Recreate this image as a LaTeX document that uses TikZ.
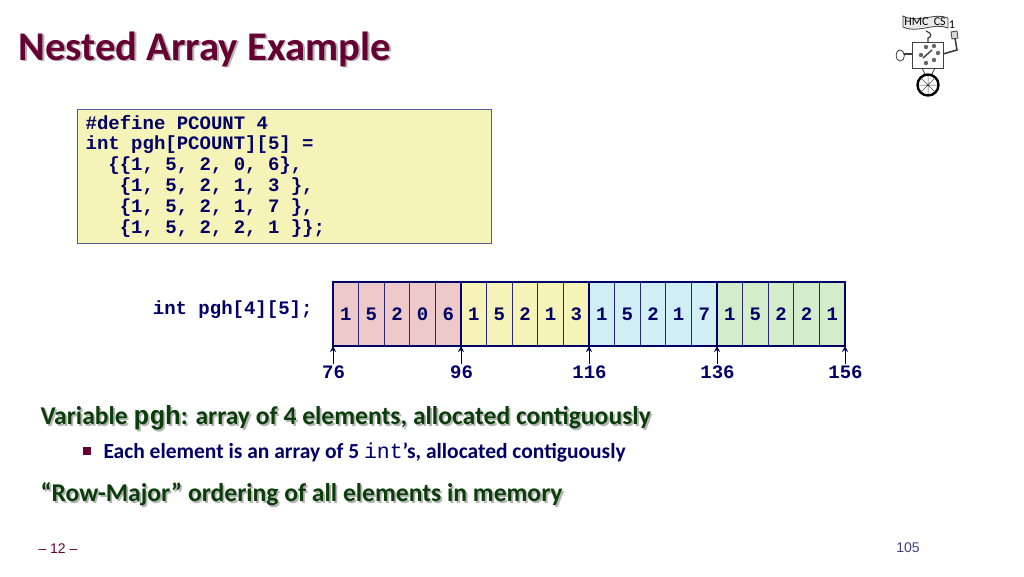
\documentclass[tikz,border=0pt]{standalone}
\usepackage{fontspec}
\usetikzlibrary{arrows.meta}
\setmainfont{Carlito}
\setsansfont{Liberation Sans}
\setmonofont{Liberation Mono}
\definecolor{titlered}{HTML}{660033}
\definecolor{textnavy}{HTML}{000066}
\definecolor{textgreen}{HTML}{0B3D0B}
\definecolor{softgray}{HTML}{B4B4B4}
\definecolor{boxline}{HTML}{5A5A9A}
\definecolor{rowpink}{HTML}{EDC9C9}
\definecolor{rowyellow}{HTML}{F6F3B9}
\definecolor{rowblue}{HTML}{CFEFF5}
\definecolor{rowgreen}{HTML}{D3ECC9}
\newcommand{\shadowed}[2]{\makebox[0pt][l]{\hspace{1.8pt}\raisebox{-1.8pt}{\textcolor{softgray}{#2}}}\textcolor{#1}{#2}}
\tikzset{
  every path/.style={line width=1pt},
  cell/.style={draw=textnavy!85,line width=.9pt,minimum width=25.6pt,minimum height=64pt,inner sep=0pt,outer sep=0pt,
    text=textnavy,font=\fontsize{19}{20}\ttfamily\bfseries},
  rowa/.style={cell,fill=rowpink},
  rowb/.style={cell,fill=rowyellow},
  rowc/.style={cell,fill=rowblue},
  rowd/.style={cell,fill=rowgreen},
  addr/.style={text=textnavy,inner sep=1pt,font=\fontsize{19}{20}\ttfamily\bfseries},
  head/.style={anchor=west,inner sep=0pt,font=\fontsize{25.6}{28}\bfseries},
  logo/.style={draw=black!75,line width=.8pt},
}

\begin{document}
\begin{tikzpicture}[x=1pt,y=-1pt]
    \useasboundingbox[fill=white] (0,0) rectangle (1024,576);
    \node[anchor=west,inner sep=0pt,font=\fontsize{40.7}{44}\bfseries] (title) at (18,50) {\shadowed{titlered}{Nested Array Example}};
    \node[anchor=north west,draw=boxline,fill=rowyellow,line width=1.2pt,inner sep=0pt,minimum height=134pt,
      text width=398pt,align=left,inner xsep=8pt,text=textnavy,font=\fontsize{19}{20.8}\ttfamily\bfseries] (code) at (77,109)
      {\spaceskip=0pt\relax\#define PCOUNT 4\\int pgh[PCOUNT][5] =\\\ \ \{\{1, 5, 2, 0, 6\},\\\ \ \ \{1, 5, 2, 1, 3 \},\\\ \ \ \{1, 5, 2, 1, 7 \},\\\ \ \ \{1, 5, 2, 2, 1 \}\};\rule[-5pt]{0pt}{5pt}};
    \node[anchor=east,inner sep=0pt,text=textnavy,font=\fontsize{19}{20}\ttfamily\bfseries] (decl) at (313,310) {int pgh[4][5];};

    \node[rowa] (c1) at (345.8,314) {1};
    \node[rowa] (c2) at (371.4,314) {5};
    \node[rowa] (c3) at (397,314) {2};
    \node[rowa] (c4) at (422.6,314) {0};
    \node[rowa] (c5) at (448.2,314) {6};
    \node[rowb] (c6) at (473.8,314) {1};
    \node[rowb] (c7) at (499.4,314) {5};
    \node[rowb] (c8) at (525,314) {2};
    \node[rowb] (c9) at (550.6,314) {1};
    \node[rowb] (c10) at (576.2,314) {3};
    \node[rowc] (c11) at (601.8,314) {1};
    \node[rowc] (c12) at (627.4,314) {5};
    \node[rowc] (c13) at (653,314) {2};
    \node[rowc] (c14) at (678.6,314) {1};
    \node[rowc] (c15) at (704.2,314) {7};
    \node[rowd] (c16) at (729.8,314) {1};
    \node[rowd] (c17) at (755.4,314) {5};
    \node[rowd] (c18) at (781,314) {2};
    \node[rowd] (c19) at (806.6,314) {2};
    \node[rowd] (c20) at (832.2,314) {1};
    % heavier outline round each row
    \draw[textnavy,line width=2.4pt] (c1.north west) rectangle (c20.south east);
    \draw[textnavy,line width=2.4pt] (c6.north west) -- (c6.south west);
    \draw[textnavy,line width=2.4pt] (c11.north west) -- (c11.south west);
    \draw[textnavy,line width=2.4pt] (c16.north west) -- (c16.south west);

    \node[addr] (a76) at (333.5,372) {76};
    \node[addr] (a96) at (461.5,372) {96};
    \node[addr] (a116) at (589.5,372) {116};
    \node[addr] (a136) at (717.5,372) {136};
    \node[addr] (a156) at (845.5,372) {156};
    \path[color=textnavy, line width=1.4pt, -{Stealth[length=6pt,width=6pt]}]
    (c1.south west |- a76.north) edge (c1.south west);
    \path[color=textnavy, line width=1.4pt, -{Stealth[length=6pt,width=6pt]}]
    (c6.south west |- a96.north) edge (c6.south west);
    \path[color=textnavy, line width=1.4pt, -{Stealth[length=6pt,width=6pt]}]
    (c11.south west |- a116.north) edge (c11.south west);
    \path[color=textnavy, line width=1.4pt, -{Stealth[length=6pt,width=6pt]}]
    (c16.south west |- a136.north) edge (c16.south west);
    \path[color=textnavy, line width=1.4pt, -{Stealth[length=6pt,width=6pt]}]
    (c20.south east |- a156.north) edge (c20.south east);

    \node[head] (var) at (40,419) {\shadowed{textgreen}{Variable {\ttfamily\fontsize{26.2}{28}\selectfont pgh}: array of 4 elements, allocated contiguously}};
    \node[fill=titlered,inner sep=0pt,minimum size=8pt] (dot) at (87,451) {};
    \node[anchor=west,inner sep=0pt,text=textnavy,font=\fontsize{21.5}{24}\bfseries] (each) at (103,452)
      {Each element is an array of 5 {\ttfamily\mdseries\fontsize{21.5}{24}\selectfont int}’s, allocated contiguously};
    \node[head] (row) at (40,495) {\shadowed{textgreen}{“Row-Major” ordering of all elements in memory}};
    \node[inner sep=0pt,text=titlered,font=\fontsize{14}{16}\sffamily] (slide) at (58,549) {– 12 –};
    \node[inner sep=0pt,text=textnavy!75,font=\fontsize{14}{16}\sffamily] (page) at (908,548) {105};

    % logo, drawn directly
    \draw[logo,fill=black!8] (903,16) .. controls (918,24) and (934,12) .. (948,18) -- (948,28) .. controls (934,22) and (918,34) .. (903,27) -- cycle;
    \node[inner sep=0pt,font=\fontsize{12}{13}\selectfont\rmfamily] (banner) at (925,22) {HMC\ \ CS};
    \node[inner sep=0pt,font=\fontsize{12}{13}\selectfont\rmfamily] (one) at (952,25) {1};
    \draw[logo,line width=1.2pt] (926,31) .. controls (932,33) and (932,37) .. (928,38) -- (928,42);
    \draw[logo,fill=white] (912,42) rectangle (943,68);
    \draw[logo,line width=1.4pt] (923,58) -- (932,50);
    \fill[black!60] (926,47) circle (2.2pt) (934,46) circle (2.2pt) (921,55) circle (2.2pt) (938,53) circle (2.2pt) (926,63) circle (2.2pt) (934,60) circle (2.2pt);
    \draw[logo,line width=1.6pt] (943,54) -- (957,50) -- (955,38);
    \draw[logo,fill=black!15] (951,32) -- (957,31) -- (958,38) -- (952,39) -- cycle;
    \draw[logo,line width=1.6pt] (912,54) -- (904,54);
    \draw[logo,fill=white] (899,50) .. controls (906,50) and (906,61) .. (900,61) .. controls (895,61) and (895,51) .. (899,50) -- cycle;
    \draw[logo] (922,68) -- (925,74) (935,68) -- (932,74);
    \draw[black,line width=2.4pt,fill=white] (928,85) circle (10.5pt);
    \draw[black!70,line width=.5pt] (918,85) -- (938,85) (928,75) -- (928,95) (921,78) -- (935,92) (921,92) -- (935,78);
  \end{tikzpicture}
\end{document}
